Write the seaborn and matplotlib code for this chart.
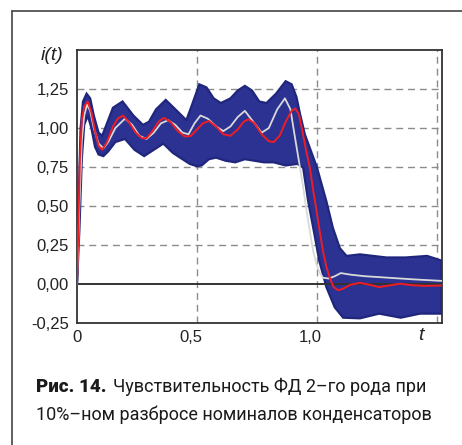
import numpy as np
import matplotlib
matplotlib.use("Agg")
import matplotlib.pyplot as plt
import matplotlib.transforms as mtransforms
from matplotlib.lines import Line2D
import seaborn as sns

# номинальная кривая (красная)
red_t = [0.000, 0.006, 0.012, 0.020, 0.030, 0.045, 0.060, 0.075, 0.090, 0.105,
         0.125, 0.150, 0.170, 0.192, 0.215, 0.245, 0.270, 0.290, 0.315, 0.340,
         0.362, 0.390, 0.420, 0.450, 0.475, 0.500, 0.525, 0.550, 0.580, 0.610,
         0.640, 0.670, 0.695, 0.715, 0.740, 0.770, 0.800, 0.820, 0.845, 0.870,
         0.895, 0.910, 0.925, 0.940, 0.955, 0.971, 0.985, 0.999, 1.013, 1.026,
         1.040, 1.054, 1.070, 1.089, 1.110, 1.140, 1.180, 1.220, 1.260, 1.300,
         1.346, 1.400, 1.450, 1.520]
red_y = [0.00, 0.40, 0.80, 1.05, 1.14, 1.17, 1.10, 0.98, 0.885, 0.86,
         0.91, 1.01, 1.06, 1.08, 1.04, 0.97, 0.935, 0.935, 0.98, 1.04,
         1.065, 1.04, 0.98, 0.945, 0.95, 0.99, 1.03, 1.045, 1.01, 0.96,
         0.95, 0.99, 1.04, 1.056, 1.03, 0.96, 0.915, 0.91, 0.95, 1.04,
         1.11, 1.125, 1.09, 0.98, 0.86, 0.746, 0.60, 0.468, 0.33, 0.21,
         0.11, 0.04, -0.02, -0.04, -0.03, -0.005, 0.008, -0.005, -0.02, -0.01,
         0.002, -0.008, -0.012, -0.01]

# светлая кривая
grey_t = [0.000, 0.010, 0.020, 0.030, 0.042, 0.055, 0.070, 0.090, 0.110, 0.130,
          0.160, 0.200, 0.230, 0.260, 0.290, 0.320, 0.350, 0.380, 0.410, 0.440,
          0.465, 0.490, 0.515, 0.545, 0.580, 0.610, 0.640, 0.670, 0.700, 0.735,
          0.770, 0.800, 0.835, 0.867, 0.890, 0.910, 0.930, 0.945, 0.957, 0.971,
          0.985, 1.000, 1.013, 1.026, 1.050, 1.075, 1.100, 1.140, 1.200, 1.300,
          1.400, 1.520]
grey_y = [0.00, 0.50, 0.92, 1.08, 1.15, 1.11, 1.00, 0.90, 0.87, 0.91,
          1.00, 1.06, 1.02, 0.95, 0.93, 0.97, 1.03, 1.05, 1.02, 0.97,
          0.96, 1.03, 1.08, 1.06, 1.01, 0.98, 1.01, 1.07, 1.11, 1.04,
          0.97, 1.00, 1.12, 1.19, 1.12, 0.93, 0.746, 0.60, 0.47, 0.34,
          0.21, 0.12, 0.07, 0.04, 0.035, 0.05, 0.07, 0.06, 0.05, 0.04,
          0.03, 0.02]

# огибающие пучка кривых при разбросе номиналов
upper_t = [0.000, 0.008, 0.015, 0.025, 0.040, 0.055, 0.070, 0.090, 0.105, 0.125,
           0.150, 0.190, 0.235, 0.275, 0.300, 0.330, 0.370, 0.410, 0.456, 0.480,
           0.510, 0.540, 0.570, 0.600, 0.640, 0.670, 0.700, 0.730, 0.760, 0.790,
           0.830, 0.870, 0.895, 0.915, 0.930, 0.950, 1.000, 1.040, 1.067, 1.096,
           1.124, 1.180, 1.290, 1.370, 1.460, 1.520]
upper_y = [0.00, 0.60, 1.00, 1.17, 1.22, 1.19, 1.08, 0.97, 0.95, 1.03,
           1.13, 1.17, 1.08, 1.02, 1.04, 1.12, 1.18, 1.12, 1.05, 1.15,
           1.28, 1.26, 1.19, 1.16, 1.19, 1.24, 1.27, 1.24, 1.17, 1.16,
           1.22, 1.30, 1.28, 1.20, 1.09, 0.96, 0.75, 0.53, 0.36, 0.23,
           0.18, 0.19, 0.17, 0.17, 0.18, 0.15]
lower_t = [0.000, 0.010, 0.020, 0.030, 0.045, 0.060, 0.075, 0.090, 0.110, 0.130,
           0.160, 0.200, 0.240, 0.280, 0.320, 0.360, 0.400, 0.440, 0.470, 0.500,
           0.520, 0.550, 0.580, 0.620, 0.660, 0.700, 0.740, 0.780, 0.820, 0.870,
           0.920, 0.943, 0.964, 0.990, 1.010, 1.040, 1.075, 1.110, 1.180, 1.260,
           1.350, 1.430, 1.520]
lower_y = [0.00, 0.35, 0.80, 1.02, 1.08, 1.00, 0.88, 0.83, 0.82, 0.85,
           0.91, 0.93, 0.86, 0.82, 0.86, 0.90, 0.84, 0.80, 0.77, 0.755,
           0.76, 0.80, 0.81, 0.79, 0.78, 0.80, 0.79, 0.78, 0.78, 0.76,
           0.77, 0.746, 0.53, 0.32, 0.15, -0.02, -0.15, -0.216, -0.22, -0.19,
           -0.216, -0.19, -0.19]

y_ticks = [-0.25, 0, 0.25, 0.5, 0.75, 1.0, 1.25]
y_labels = ["-0,25", "0,00", "0,25", "0,50", "0,75", "1,00", "1,25"]
x_ticks = [0, 0.5, 1.0]
x_labels = ["0", "0,5", "1,0"]
x_grid = [0.5, 1.0, 1.5]

NAVY = "#2b3292"
sns.set_style("white")
plt.rcParams["font.family"] = ["Liberation Sans", "DejaVu Sans"]

fig = plt.figure(figsize=(4.62, 4.45), dpi=100)
ax = fig.add_axes([77 / 462, 1 - 323 / 445, (441.5 - 77) / 462, (323 - 50) / 445])

# пучок
band_x = np.concatenate([upper_t, lower_t[::-1]])
band_y = np.concatenate([upper_y, lower_y[::-1]])
ax.fill(band_x, band_y, color=NAVY, lw=1.6, ec="#20267c", zorder=2)

sns.lineplot(x=grey_t, y=grey_y, ax=ax, color="#d9d9d9", lw=1.3, sort=False, zorder=4)
sns.lineplot(x=red_t, y=red_y, ax=ax, color="#ee1c24", lw=1.4, sort=False, zorder=5)

ax.axhline(0, color="#333333", lw=1.4, zorder=3)
for yv in y_ticks[2:]:
    ax.axhline(yv, color="#8c8c8c", lw=1.0, ls=(0, (5, 3.5)), zorder=1)
for xv in x_grid:
    ax.axvline(xv, color="#8c8c8c", lw=1.0, ls=(0, (5, 3.5)), zorder=1)

ax.set_xlim(0, 1.52)
ax.set_ylim(-0.25, 1.5)
ax.set_yticks(y_ticks)
ax.set_yticklabels(y_labels)
ax.set_xticks(x_ticks)
ax.set_xticklabels(x_labels)
ax.tick_params(length=0, labelsize=12, colors="#222222", pad=6)
ax.tick_params(axis="x", pad=5)
offset = mtransforms.ScaledTranslation(5 / 100, 0, fig.dpi_scale_trans)
for lab in ax.get_xticklabels():
    lab.set_horizontalalignment("right")
    lab.set_transform(lab.get_transform() + offset)

for sp in ax.spines.values():
    sp.set_color("#333333")
    sp.set_linewidth(1.3)

fig.text(52 / 462, 1 - 55 / 445, "i(t)", fontsize=14, style="italic",
         ha="center", va="center", color="#222222")
fig.text(421 / 462, 1 - 336 / 445, "t", fontsize=14, style="italic",
         ha="center", va="center", color="#222222")

# рамка
fig.add_artist(Line2D([12 / 462, 12 / 462], [0, 1 - 11 / 445], color="#444444", lw=1.2))
fig.add_artist(Line2D([12 / 462, 1], [1 - 11 / 445, 1 - 11 / 445], color="#444444", lw=1.2))

cap_font = ["Roboto", "DejaVu Sans"]
fig.text(36 / 462, 1 - 392 / 445, "Рис. 14.", fontsize=13.5, fontweight="heavy",
         family=cap_font, color="#1a1a1a", va="baseline")
fig.text(113 / 462, 1 - 392 / 445, "Чувствительность ФД 2–го рода при",
         fontsize=13, family=cap_font, color="#1a1a1a", va="baseline")
fig.text(36 / 462, 1 - 420 / 445, "10%–ном разбросе номиналов конденсаторов",
         fontsize=13, family=cap_font, color="#1a1a1a", va="baseline")

fig.savefig("out.png", dpi=100)
